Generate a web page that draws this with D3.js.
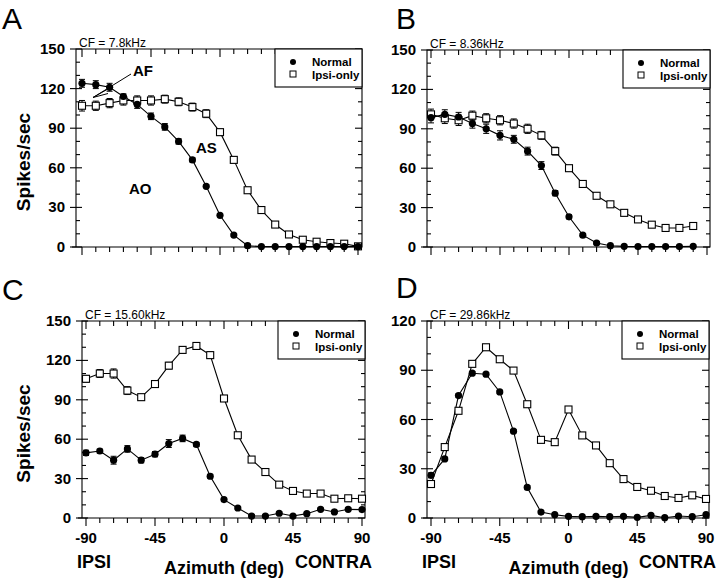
<!DOCTYPE html>
<html>
<head>
<meta charset="utf-8">
<script src="https://cdn.jsdelivr.net/npm/d3@7"></script>
<style>
  body { margin: 0; background: #fff; }
  svg { display: block; font-family: "Liberation Sans", Arial, Helvetica, sans-serif; }
</style>
</head>
<body>
<svg id="chart" width="720" height="580"></svg>
<script>
// ---------------- data ----------------
const azimuth = [-90, -81, -72, -63, -54, -45, -36, -27, -18, -9, 0, 9, 18, 27, 36, 45, 54, 63, 72, 81, 90];
const azimuthB = [-90, -81, -72, -63, -54, -45, -36, -27, -18, -9, 0, 9, 18, 27, 36, 45, 54, 63, 72, 81];
const xTickLabels = ["-90", "-45", "0", "45", "90"];
const seriesNames = ["Normal", "Ipsi-only"];
const panelLetters = ["A", "B", "C", "D"];
const cfLabels = ["CF = 7.8kHz", "CF = 8.36kHz", "CF = 15.60kHz", "CF = 29.86kHz"];

const aNormal    = [124, 123, 121, 114, 108, 99, 91, 80, 66, 46, 24, 9, 1, 0.3, 0.3, 0.3, 0.3, 0.3, 0.3, 0.3, 0.3];
const aNormalErr = [3, 3, 3, 2, 3, 2.5, 2.5, 2, 1.5, 1, 1, 1, 1, 0.5, 0, 0, 0, 0, 0, 0, 0];
const aIpsi      = [107, 107, 109, 111, 111, 111, 112, 110, 106, 101, 87, 66, 43, 28, 17, 9.5, 5.5, 4, 3, 2.5, 0.5];
const aIpsiErr   = [4, 3.5, 3.5, 3.5, 3.5, 3.5, 3, 3, 3, 3, 2, 2, 1.5, 1, 1, 1, 1, 0.5, 0.5, 0.5, 0.5];

const bNormal    = [98.5, 101, 99, 94, 90, 85, 82, 73, 62, 41, 23, 9, 3, 1, 0.5, 0.3, 0.3, 0.3, 0.3, 0.5];
const bNormalErr = [4, 3.5, 3.5, 3.5, 3.5, 3.5, 3, 3, 3, 2, 1.5, 1, 1, 0.5, 0.5, 0.5, 0, 0, 0, 0];
const bIpsi      = [101, 98, 96.5, 100, 98, 96.5, 94, 90, 85, 73, 60, 48, 39, 32.5, 26, 21, 17, 14.5, 14.5, 16];
const bIpsiErr   = [4, 4, 4, 3.5, 3.5, 3.5, 3.5, 3.5, 3, 3, 2, 2, 1.5, 1.5, 1, 1, 1, 0.5, 0.5, 0.5];

const cNormal    = [49.6, 51, 44, 52.6, 44, 48.6, 56.7, 60.6, 56, 31.8, 14, 7.6, 1.5, 1.5, 3.6, 1.5, 3.3, 6.6, 4.6, 6.6, 6.4];
const cNormalErr = [2, 1.5, 3, 2.5, 2, 2, 3, 2.5, 1.5, 1.5, 1, 1, 1, 1, 1, 1, 1, 1, 1, 1, 1];
const cIpsi      = [106, 110, 110, 97, 92, 102, 116, 128, 131, 124, 91, 63, 44.5, 35, 25.4, 20.6, 18.6, 18.6, 14.7, 15, 14.7];
const cIpsiErr   = [2.5, 3, 3.5, 3, 2, 2, 2.5, 2.5, 2, 2.5, 2, 1.5, 1.5, 1, 1, 1, 1, 1, 1, 1, 1];

const dNormal    = [26, 36, 74.6, 88.2, 87.6, 76.8, 52.9, 18.6, 3.6, 2, 1, 0.8, 1, 0.8, 1, 0.4, 1.6, 0.2, 1.2, 0.8, 2];
const dNormalErr = [1.5, 1, 1, 1, 1, 1, 1, 1, 0.5, 0.5, 0.5, 0.5, 0.5, 0.5, 0.5, 0.5, 0.5, 0.5, 0.5, 0.5, 0.5];
const dIpsi      = [20.7, 43.2, 65.3, 93.9, 104, 96.7, 89.8, 69.3, 47.6, 46.2, 66.1, 50.3, 44.2, 33.4, 23.7, 18.9, 16.6, 13.4, 12.2, 13.8, 11.6];
const dIpsiErr   = [1, 1, 1, 1, 1, 1, 1, 1, 1, 1, 1, 1, 1, 1, 1, 1, 1, 1, 1, 1, 1];

// ---------------- layout ----------------
const panels = [
  { letter: panelLetters[0], cf: cfLabels[0], x: azimuth, normal: aNormal, normalErr: aNormalErr, ipsi: aIpsi, ipsiErr: aIpsiErr,
    box: { l: 76, r: 362, t: 49, b: 247 }, xr: [82, 358], ymax: 150, yTitle: true, xLabels: false, letterPos: [2, 29] },
  { letter: panelLetters[1], cf: cfLabels[1], x: azimuthB, normal: bNormal, normalErr: bNormalErr, ipsi: bIpsi, ipsiErr: bIpsiErr,
    box: { l: 427, r: 710, t: 50, b: 247 }, xr: [431, 707], ymax: 150, yTitle: false, xLabels: false, letterPos: [396, 29] },
  { letter: panelLetters[2], cf: cfLabels[2], x: azimuth, normal: cNormal, normalErr: cNormalErr, ipsi: cIpsi, ipsiErr: cIpsiErr,
    box: { l: 82, r: 365, t: 321, b: 518 }, xr: [86, 362], ymax: 150, yTitle: true, xLabels: true, letterPos: [2, 300] },
  { letter: panelLetters[3], cf: cfLabels[3], x: azimuth, normal: dNormal, normalErr: dNormalErr, ipsi: dIpsi, ipsiErr: dIpsiErr,
    box: { l: 427, r: 709, t: 321, b: 518 }, xr: [431, 706], ymax: 120, yTitle: false, xLabels: true, letterPos: [396, 298] }
];

const svg = d3.select("#chart");

panels.forEach((p, pi) => {
  const g = svg.append("g");
  const x = d3.scaleLinear().domain([-90, 90]).range(p.xr);
  const y = d3.scaleLinear().domain([0, p.ymax]).range([p.box.b, p.box.t]);
  const majorX = d3.range(-90, 91, 45);
  const minorX = d3.range(-90, 91, 9);
  const majorY = d3.range(0, p.ymax + 1, 30);
  const minorY = d3.range(0, p.ymax + 1, 10);

  // panel letter
  g.append("text").attr("x", p.letterPos[0]).attr("y", p.letterPos[1])
    .attr("font-size", 30).attr("fill", "#000").text(p.letter);

  // frame: left, top, right, bottom
  g.append("path")
    .attr("d", `M${p.box.l},${p.box.b}V${p.box.t}H${p.box.r}V${p.box.b}H${p.box.l - 4}`)
    .attr("fill", "none").attr("stroke", "#000").attr("stroke-width", 1.1);

  // bottom axis ticks (outward) and top ticks (inward)
  minorX.forEach(v => {
    const major = majorX.includes(v);
    g.append("line").attr("x1", x(v)).attr("x2", x(v))
      .attr("y1", p.box.b).attr("y2", p.box.b + (major ? 8 : 5))
      .attr("stroke", "#000").attr("stroke-width", 1.1);
    g.append("line").attr("x1", x(v)).attr("x2", x(v))
      .attr("y1", p.box.t).attr("y2", p.box.t + (major ? 8 : 5))
      .attr("stroke", "#000").attr("stroke-width", 1.1);
  });
  // left and right ticks
  minorY.forEach(v => {
    const major = v % 30 === 0;
    g.append("line").attr("x1", p.box.l - (major ? 6 : 0)).attr("x2", p.box.l + (major ? 6 : 4))
      .attr("y1", y(v)).attr("y2", y(v)).attr("stroke", "#000").attr("stroke-width", 1.1);
    g.append("line").attr("x1", p.box.r).attr("x2", p.box.r - (major ? 7 : 4))
      .attr("y1", y(v)).attr("y2", y(v)).attr("stroke", "#000").attr("stroke-width", 1.1);
  });

  // y tick labels
  majorY.forEach(v => {
    g.append("text").attr("x", p.box.l - 11).attr("y", y(v) + 5)
      .attr("text-anchor", "end").attr("font-size", 15).attr("font-weight", "bold").text(v);
  });

  // x tick labels and axis labels
  if (p.xLabels) {
    majorX.forEach((v, i) => {
      g.append("text").attr("x", x(v)).attr("y", p.box.b + 25)
        .attr("text-anchor", "middle").attr("font-size", 15).attr("font-weight", "bold").text(xTickLabels[i]);
    });
    g.append("text").attr("x", x(-90) - 9).attr("y", p.box.b + 50)
      .attr("font-size", 18).attr("font-weight", "bold").text("IPSI");
    g.append("text").attr("x", x(90) + 10).attr("y", p.box.b + 50)
      .attr("text-anchor", "end").attr("font-size", 18).attr("font-weight", "bold").text("CONTRA");
    g.append("text").attr("x", x(0)).attr("y", p.box.b + 56)
      .attr("text-anchor", "middle").attr("font-size", 18).attr("font-weight", "bold").text("Azimuth (deg)");
  }

  if (p.yTitle) {
    const cy = (p.box.t + p.box.b) / 2 + 14;
    g.append("text").attr("transform", `translate(30,${cy}) rotate(-90)`)
      .attr("text-anchor", "middle").attr("font-size", 19).attr("font-weight", "bold").text("Spikes/sec");
  }

  // CF label
  g.append("text").attr("x", p.box.l + 3).attr("y", p.box.t - 2)
    .attr("font-size", 12).text(p.cf);

  // series
  const line = d3.line().x((d, i) => x(p.x[i])).y(d => y(d));
  [["ipsi", "ipsiErr"], ["normal", "normalErr"]].forEach(([key, ekey]) => {
    const vals = p[key], errs = p[ekey];
    g.append("path").attr("d", line(vals)).attr("fill", "none").attr("stroke", "#000").attr("stroke-width", 1.1);
    vals.forEach((v, i) => {
      const e = errs[i];
      if (e > 0.6) {
        const cx = x(p.x[i]);
        g.append("line").attr("x1", cx).attr("x2", cx).attr("y1", y(v - e)).attr("y2", y(v + e))
          .attr("stroke", "#000").attr("stroke-width", 1);
        [v - e, v + e].forEach(w => g.append("line").attr("x1", cx - 3).attr("x2", cx + 3)
          .attr("y1", y(w)).attr("y2", y(w)).attr("stroke", "#000").attr("stroke-width", 1));
      }
    });
  });
  // markers: ipsi squares then normal circles
  p.ipsi.forEach((v, i) => {
    g.append("rect").attr("x", x(p.x[i]) - 3.5).attr("y", y(v) - 3.5).attr("width", 7).attr("height", 7)
      .attr("fill", "#fff").attr("stroke", "#000").attr("stroke-width", 1.1);
  });
  p.normal.forEach((v, i) => {
    g.append("circle").attr("cx", x(p.x[i])).attr("cy", y(v)).attr("r", 3.6).attr("fill", "#000");
  });

  // legend
  const lx = p.box.r - 87, ly = p.box.t;
  g.append("rect").attr("x", lx).attr("y", ly).attr("width", 87).attr("height", 38)
    .attr("fill", "#fff").attr("stroke", "#000").attr("stroke-width", 1.1);
  g.append("circle").attr("cx", lx + 18).attr("cy", ly + 13).attr("r", 3).attr("fill", "#000");
  g.append("rect").attr("x", lx + 15).attr("y", ly + 22).attr("width", 6).attr("height", 6)
    .attr("fill", "#fff").attr("stroke", "#000").attr("stroke-width", 1);
  g.append("text").attr("x", lx + 37).attr("y", ly + 17).attr("font-size", 11.5).attr("font-weight", "bold").text(seriesNames[0]);
  g.append("text").attr("x", lx + 37).attr("y", ly + 30).attr("font-size", 11.5).attr("font-weight", "bold").text(seriesNames[1]);

  // annotations for panel A
  if (pi === 0) {
    g.append("text").attr("x", 133).attr("y", 76).attr("font-size", 15).attr("font-weight", "bold").text("AF");
    g.append("text").attr("x", 196).attr("y", 153).attr("font-size", 15).attr("font-weight", "bold").text("AS");
    g.append("text").attr("x", 129).attr("y", 194).attr("font-size", 15).attr("font-weight", "bold").text("AO");
    const tip = [93, 97.5];
    [[131, 74], [107, 89.5], [108, 93.5]].forEach(pt => {
      g.append("line").attr("x1", tip[0]).attr("y1", tip[1]).attr("x2", pt[0]).attr("y2", pt[1])
        .attr("stroke", "#000").attr("stroke-width", 1);
    });
  }
});
</script>
</body>
</html>
